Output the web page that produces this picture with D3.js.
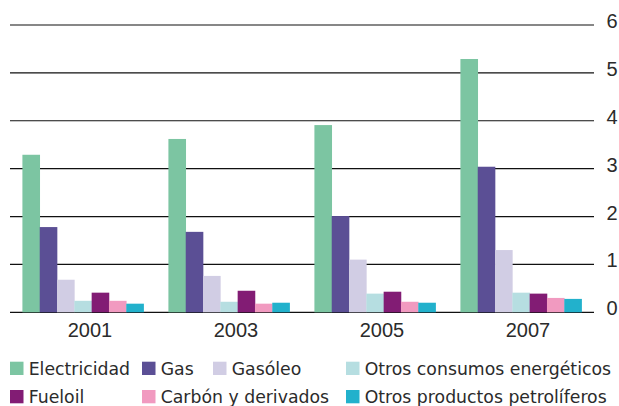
<!DOCTYPE html>
<html>
<head>
<meta charset="utf-8">
<script src="https://cdn.jsdelivr.net/npm/d3@7"></script>
<style>
	body { margin: 0; background: #fff; }
	svg { display: block; }
</style>
</head>
<body>
<svg id="chart" width="619" height="406"></svg>
<script>
var years = ["2001", "2003", "2005", "2007"];
var seriesNames = ["Electricidad", "Gas", "Gasóleo", "Otros consumos energéticos", "Fueloil", "Carbón y derivados", "Otros productos petrolíferos"];
var seriesColors = ["#7cc5a2", "#5b4f95", "#d1cde4", "#b6dee1", "#821c74", "#f19ac0", "#22b1cc"];
var electricidad = [3.29, 3.62, 3.91, 5.29];
var gas = [1.78, 1.68, 2.01, 3.04];
var gasoleo = [0.68, 0.76, 1.10, 1.30];
var otrosConsumos = [0.24, 0.22, 0.39, 0.41];
var fueloil = [0.41, 0.45, 0.43, 0.39];
var carbon = [0.24, 0.18, 0.22, 0.30];
var otrosProductos = [0.18, 0.20, 0.20, 0.28];
var yTicks = [0, 1, 2, 3, 4, 5, 6];

var values = [electricidad, gas, gasoleo, otrosConsumos, fueloil, carbon, otrosProductos];

var svg = d3.select("#chart"),
	plotLeft = 10, plotRight = 594, plotTop = 25, plotBottom = 312.3,
	textColor = "#2b2b2b";

var x0 = d3.scaleBand()
	.domain(years)
	.range([plotLeft, plotRight])
	.paddingInner(0.17)
	.paddingOuter(0.085);

var x1 = d3.scaleBand()
	.domain(seriesNames)
	.range([0, x0.bandwidth()]);

var y = d3.scaleLinear()
	.domain([0, 6])
	.range([plotBottom, plotTop]);

// gridlines, behind the bars
svg.append("g")
	.selectAll("line")
	.data(yTicks)
	.enter().append("line")
		.attr("x1", plotLeft)
		.attr("x2", plotRight)
		.attr("y1", function(d) { return y(d); })
		.attr("y2", function(d) { return y(d); })
		.attr("stroke", "#111")
		.attr("stroke-width", 1.2);

svg.append("g")
	.selectAll("text")
	.data(yTicks)
	.enter().append("text")
		.attr("x", plotRight + 12.5)
		.attr("y", function(d) { return y(d) + 3; })
		.attr("font-family", "Liberation Sans, Arial, sans-serif")
		.attr("font-size", 20)
		.attr("fill", textColor)
		.text(function(d) { return d; });

// bars
var rows = years.map(function(yr, i) {
	return { year: yr, bars: seriesNames.map(function(s, j) { return { key: s, value: values[j][i], color: seriesColors[j] }; }) };
});

svg.append("g")
	.selectAll("g")
	.data(rows)
	.enter().append("g")
		.attr("transform", function(d) { return "translate(" + x0(d.year) + ",0)"; })
	.selectAll("rect")
	.data(function(d) { return d.bars; })
	.enter().append("rect")
		.attr("x", function(d) { return x1(d.key); })
		.attr("y", function(d) { return y(d.value); })
		.attr("width", x1.bandwidth() + 0.3)
		.attr("height", function(d) { return plotBottom - y(d.value); })
		.attr("fill", function(d) { return d.color; });

// year labels
svg.append("g")
	.selectAll("text")
	.data(years)
	.enter().append("text")
		.attr("x", function(d) { return x0(d) + x0.bandwidth() / 2 + 7; })
		.attr("y", 336.7)
		.attr("text-anchor", "middle")
		.attr("font-family", "Liberation Sans, Arial, sans-serif")
		.attr("font-size", 20)
		.attr("fill", textColor)
		.text(function(d) { return d; });

// legend
var legendPos = [[10, 375], [142, 375], [213, 375], [346, 375], [10, 403.3], [142, 403.3], [346, 403.3]];

var legend = svg.append("g")
	.selectAll("g")
	.data(seriesNames)
	.enter().append("g")
		.attr("transform", function(d, i) { return "translate(" + legendPos[i][0] + "," + legendPos[i][1] + ")"; });

legend.append("rect")
	.attr("x", 0)
	.attr("y", -13.3)
	.attr("width", 13.5)
	.attr("height", 13.3)
	.attr("fill", function(d, i) { return seriesColors[i]; });

legend.append("text")
	.attr("x", 18.7)
	.attr("y", 0)
	.attr("font-family", "DejaVu Sans, sans-serif")
	.attr("font-size", 17.3)
	.attr("fill", textColor)
	.text(function(d) { return d; });
</script>
</body>
</html>
